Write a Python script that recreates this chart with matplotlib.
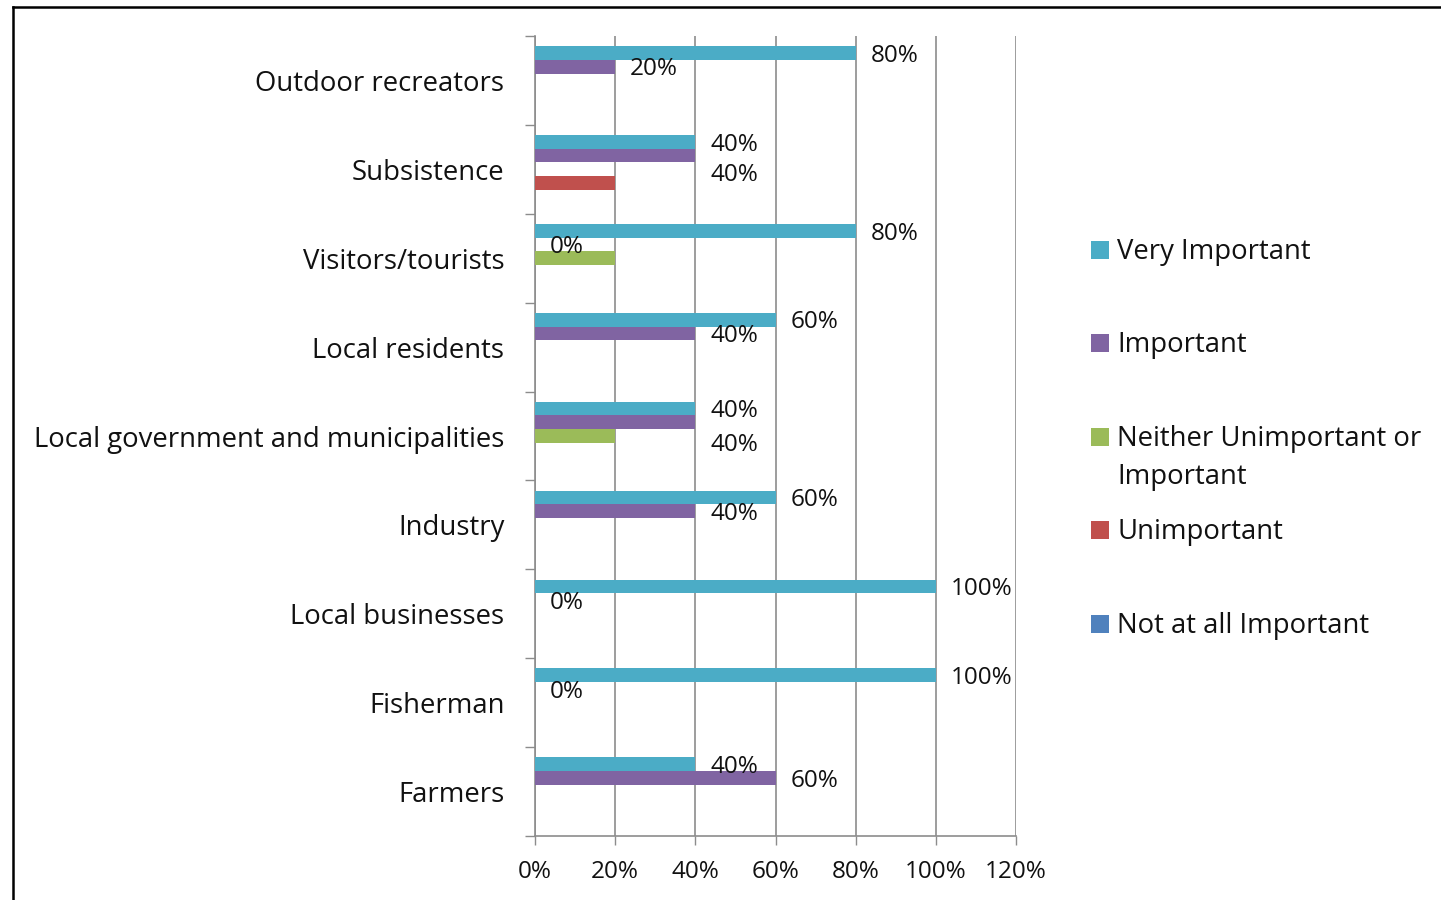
import matplotlib
matplotlib.use("Agg")
import matplotlib.pyplot as plt
from matplotlib.lines import Line2D
from matplotlib.patches import Rectangle
from matplotlib.ticker import FixedLocator, PercentFormatter
import numpy as np

plt.rcParams['font.family'] = ['Open Sans', 'DejaVu Sans']

# ---------------- data ----------------
categories = ["Farmers", "Fisherman", "Local businesses", "Industry",
              "Local government and municipalities", "Local residents",
              "Visitors/tourists", "Subsistence", "Outdoor recreators"]
series_names = ["Very Important", "Important",
                "Neither Unimportant or\nImportant", "Unimportant",
                "Not at all Important"]
very_important = [40, 100, 100, 60, 40, 60, 80, 40, 80]
important = [60, 0, 0, 40, 40, 40, 0, 40, 20]
neither = [0, 0, 0, 0, 20, 0, 20, 0, 0]
unimportant = [0, 0, 0, 0, 0, 0, 0, 20, 0]
not_at_all = [0, 0, 0, 0, 0, 0, 0, 0, 0]
x_ticks = [0, 20, 40, 60, 80, 100, 120]
# series that carry data labels
labelled_series = [0, 1]
# manual label nudges (category index -> vertical shift, in category units)
important_label_shift = {7: -0.19, 4: -0.23}

colors = ["#4BACC6", "#8064A2", "#9BBB59", "#C0504D", "#4F81BD"]
all_series = [very_important, important, neither, unimportant, not_at_all]

W, H = 1441, 900
fig = plt.figure(figsize=(W / 100, H / 100), dpi=100)
fig.patch.set_facecolor("white")

ax = fig.add_axes([535 / W, 1 - 836 / H, (1016 - 535) / W, (836 - 36) / H])

TXT = "#111111"
bw = 1 / 6.5
y = np.arange(len(categories))
for k, vals in enumerate(all_series):
    ypos = y + (2 - k) * bw
    ax.barh(ypos, vals, height=bw, color=colors[k], edgecolor="none", zorder=3)
    if k in labelled_series:
        for i, v in enumerate(vals):
            yy = ypos[i] - 0.03
            if k == 1 and i in important_label_shift:
                yy += important_label_shift[i]
            ax.annotate(f"{v}%", (v, yy), xytext=(15, 0),
                        textcoords="offset pixels", ha="left", va="center",
                        fontsize=17.5, color=TXT, zorder=4)

ax.set_xlim(0, 120)
ax.set_ylim(-0.5, len(categories) - 0.5)
ax.xaxis.set_major_locator(FixedLocator(x_ticks))
ax.xaxis.set_major_formatter(PercentFormatter(decimals=0))
ax.grid(axis="x", color="#8c8c8c", linewidth=1.2, zorder=0)
ax.set_axisbelow(True)

ax.set_yticks(y)
ax.set_yticklabels(categories)
ax.set_yticks(np.arange(-0.5, len(categories)), minor=True)
ax.tick_params(axis="y", which="major", length=0, pad=22, labelsize=19.8,
               labelcolor=TXT)
ax.tick_params(axis="y", which="minor", length=7, width=1.0, color="#8c8c8c",
               direction="out")
ax.tick_params(axis="x", which="major", length=6.5, width=1.0, color="#8c8c8c",
               direction="out", pad=11, labelsize=17.5, labelcolor=TXT)

for s in ["top", "right"]:
    ax.spines[s].set_visible(False)
for s in ["left", "bottom"]:
    ax.spines[s].set_color("#8c8c8c")
    ax.spines[s].set_linewidth(1.2)

# legend (manual, Excel style)
leg_y = [249, 342, 436, 529, 623]
for k, name in enumerate(series_names):
    yc = leg_y[k]
    fig.add_artist(Rectangle((1091 / W, 1 - (yc + 10) / H), 18 / W, 18 / H,
                             transform=fig.transFigure, facecolor=colors[k],
                             edgecolor="none"))
    for j, ln in enumerate(name.split("\n")):
        fig.text(1117 / W, 1 - (yc + 3 + 38 * j) / H, ln, ha="left", va="center",
                 fontsize=19.8, color=TXT)

# outer frame
fig.add_artist(Line2D([12.5 / W, 12.5 / W], [0, 1 - 7 / H], color="black",
                      linewidth=1.8, transform=fig.transFigure))
fig.add_artist(Line2D([12.5 / W, 1], [1 - 7 / H, 1 - 7 / H], color="black",
                      linewidth=1.8, transform=fig.transFigure))

fig.savefig("out.png", dpi=100, facecolor="white")
